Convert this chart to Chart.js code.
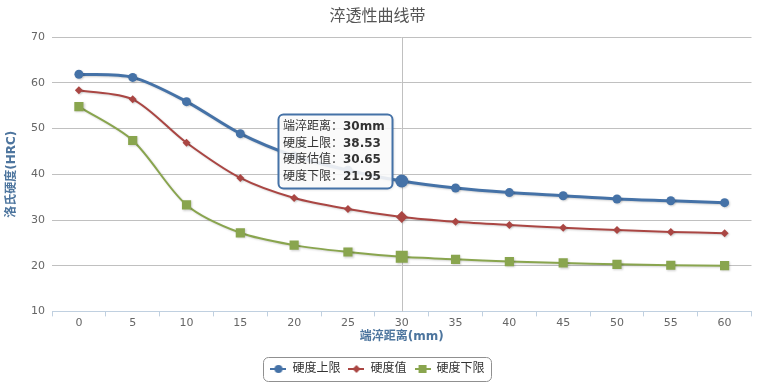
<!DOCTYPE html>
<html lang="zh">
<head>
    <meta charset="UTF-8">
    <title>淬透性曲线带</title>
    <style>
        body {
            margin: 0;
            padding: 0;
            background-color: white;
        }
        .chart-box {
            width: 758px;
            height: 385px;
        }
    </style>
</head>
<body>
    <div class="chart-box">
        <canvas id="hardenChart"></canvas>
    </div>
    <script src="https://cdn.jsdelivr.net/npm/chart.js"></script>
    <script>
        // 端淬距离 (mm)
        const distances = ['0', '5', '10', '15', '20', '25', '30', '35', '40', '45', '50', '55', '60'];
        // 硬度 (HRC)
        const upperLimit = [61.9, 61.2, 55.9, 48.9, 44.0, 40.9, 38.53, 37.0, 36.0, 35.3, 34.6, 34.2, 33.8];
        const estimate = [58.4, 56.4, 46.9, 39.2, 34.8, 32.4, 30.65, 29.6, 28.9, 28.3, 27.8, 27.4, 27.1];
        const lowerLimit = [54.8, 47.4, 33.3, 27.2, 24.5, 23.0, 21.95, 21.4, 20.9, 20.6, 20.3, 20.1, 20.0];
        const seriesNames = ['硬度上限', '硬度值', '硬度下限'];
        const hoverIndex = 6;

        const FONT = '"DejaVu Sans", "Noto Sans CJK SC", sans-serif';
        const colors = ['#4572A7', '#AA4643', '#89A54E'];

        // little line + marker pictures for the legend
        function legendIcon(color, style) {
            const c = document.createElement('canvas');
            c.width = 16;
            c.height = 12;
            const g = c.getContext('2d');
            g.strokeStyle = color;
            g.lineWidth = 2;
            g.beginPath();
            g.moveTo(0, 6);
            g.lineTo(16, 6);
            g.stroke();
            g.fillStyle = color;
            g.beginPath();
            if (style === 'circle') {
                g.arc(8, 6, 4, 0, Math.PI * 2);
            } else if (style === 'diamond') {
                g.moveTo(8, 2); g.lineTo(12, 6); g.lineTo(8, 10); g.lineTo(4, 6); g.closePath();
            } else {
                g.rect(4, 2, 8, 8);
            }
            g.fill();
            return c;
        }
        const icons = [legendIcon(colors[0], 'circle'), legendIcon(colors[1], 'diamond'), legendIcon(colors[2], 'square')];

        const lineShadow = {
            id: 'lineShadow',
            beforeDatasetDraw(chart) {
                const ctx = chart.ctx;
                ctx.save();
                ctx.shadowColor = 'rgba(0,0,0,0.18)';
                ctx.shadowOffsetX = 1;
                ctx.shadowOffsetY = 1;
                ctx.shadowBlur = 2;
            },
            afterDatasetDraw(chart) {
                chart.ctx.restore();
            }
        };

        const crosshair = {
            id: 'crosshair',
            beforeDatasetsDraw(chart) {
                const ctx = chart.ctx;
                const x = chart.scales.x.getPixelForValue(hoverIndex);
                ctx.save();
                ctx.strokeStyle = '#C0C0C0';
                ctx.lineWidth = 1;
                ctx.beginPath();
                ctx.moveTo(Math.round(x) + 0.5, chart.chartArea.top);
                ctx.lineTo(Math.round(x) + 0.5, chart.chartArea.bottom);
                ctx.stroke();
                ctx.restore();
            }
        };

        const legendBorder = {
            id: 'legendBorder',
            afterDraw(chart) {
                const boxes = chart.legend.legendHitBoxes;
                if (!boxes || !boxes.length) return;
                let l = Infinity, r = -Infinity, t = Infinity, b = -Infinity;
                boxes.forEach(h => {
                    l = Math.min(l, h.left);
                    r = Math.max(r, h.left + h.width);
                    t = Math.min(t, h.top);
                    b = Math.max(b, h.top + h.height);
                });
                const ctx = chart.ctx;
                ctx.save();
                ctx.strokeStyle = '#909090';
                ctx.lineWidth = 1;
                ctx.beginPath();
                ctx.roundRect(Math.round(l - 7) + 0.5, Math.round(t - 6) + 0.5, Math.round(r - l + 14), Math.round(b - t + 12), 5);
                ctx.stroke();
                ctx.restore();
            }
        };

        const fixedTooltip = {
            id: 'fixedTooltip',
            afterDraw(chart) {
                const ctx = chart.ctx;
                const pt = chart.getDatasetMeta(0).data[hoverIndex];
                const rows = [
                    ['端淬距离：', distances[hoverIndex] + 'mm'],
                    [seriesNames[0] + '：', upperLimit[hoverIndex].toFixed(2)],
                    ['硬度估值：', estimate[hoverIndex].toFixed(2)],
                    [seriesNames[2] + '：', lowerLimit[hoverIndex].toFixed(2)]
                ];
                const normal = '12px ' + FONT;
                const bold = 'bold 12px ' + FONT;
                let w = 0;
                rows.forEach(r => {
                    ctx.font = normal;
                    const a = ctx.measureText(r[0]).width;
                    ctx.font = bold;
                    w = Math.max(w, a + ctx.measureText(r[1]).width);
                });
                const lineH = 16.5;
                const bw = Math.round(w + 12);
                const bh = Math.round(lineH * rows.length + 8);
                const right = Math.round(pt.x - 10);
                const bottom = Math.round(pt.y + 7);
                const left = right - bw;
                const top = bottom - bh;

                ctx.save();
                ctx.shadowColor = 'rgba(0,0,0,0.2)';
                ctx.shadowOffsetX = 1;
                ctx.shadowOffsetY = 1;
                ctx.shadowBlur = 3;
                ctx.fillStyle = 'rgba(255,255,255,0.88)';
                ctx.beginPath();
                ctx.roundRect(left + 0.5, top + 0.5, bw, bh, 5);
                ctx.fill();
                ctx.shadowColor = 'transparent';
                ctx.strokeStyle = colors[0];
                ctx.lineWidth = 2;
                ctx.stroke();

                ctx.fillStyle = '#333';
                ctx.textBaseline = 'middle';
                rows.forEach((r, i) => {
                    const y = top + 4 + lineH * (i + 0.5) + 1;
                    ctx.font = normal;
                    ctx.fillText(r[0], left + 5, y);
                    const a = ctx.measureText(r[0]).width;
                    ctx.font = bold;
                    ctx.fillText(r[1], left + 5 + a, y);
                });
                ctx.restore();
            }
        };

        function series(i, data, style, lineWidth, radius) {
            return {
                label: seriesNames[i],
                data: data,
                borderColor: colors[i],
                backgroundColor: colors[i],
                borderWidth: lineWidth,
                pointStyle: style,
                pointRadius: data.map((v, k) => k === hoverIndex ? radius + 2 : radius),
                pointBorderWidth: 0,
                tension: 0.3,
                fill: false
            };
        }

        const ctx = document.getElementById('hardenChart').getContext('2d');
        new Chart(ctx, {
            type: 'line',
            data: {
                labels: distances,
                datasets: [
                    series(0, upperLimit, 'circle', 3, 4.5),
                    series(1, estimate, 'rectRot', 2, 4),
                    series(2, lowerLimit, 'rect', 2, 6.5)
                ]
            },
            options: {
                responsive: true,
                maintainAspectRatio: false,
                animation: false,
                events: [],
                layout: {
                    padding: { left: 0, right: 3, top: 0, bottom: 0 }
                },
                scales: {
                    x: {
                        offset: true,
                        grid: {
                            offset: true,
                            drawOnChartArea: false,
                            color: '#C0D0E0',
                            tickLength: 5
                        },
                        border: { color: '#C0D0E0' },
                        ticks: {
                            color: '#666',
                            font: { family: FONT, size: 11 },
                            padding: 0,
                            maxRotation: 0
                        },
                        title: {
                            display: true,
                            text: '端淬距离(mm)',
                            color: '#4d759e',
                            font: { family: FONT, size: 12, weight: 'bold' },
                            padding: { top: 0, bottom: 11 }
                        }
                    },
                    y: {
                        min: 10,
                        max: 70,
                        ticks: {
                            stepSize: 10,
                            color: '#666',
                            font: { family: FONT, size: 11 },
                            padding: 7
                        },
                        grid: {
                            color: '#C0C0C0',
                            drawTicks: false
                        },
                        border: { display: false },
                        title: {
                            display: true,
                            text: '洛氏硬度(HRC)',
                            color: '#4d759e',
                            font: { family: FONT, size: 12, weight: 'bold' },
                            padding: { top: 5, bottom: 4 }
                        },
                        afterFit(scale) {
                            scale.width = 52;
                        }
                    }
                },
                plugins: {
                    title: {
                        display: true,
                        text: '淬透性曲线带',
                        color: '#555',
                        font: { family: FONT, size: 16, weight: 'normal' },
                        padding: { top: 7, bottom: 11 }
                    },
                    legend: {
                        position: 'bottom',
                        labels: {
                            usePointStyle: true,
                            pointStyleWidth: 16,
                            color: '#333',
                            font: { family: FONT, size: 12 },
                            padding: 8,
                            generateLabels(chart) {
                                return chart.data.datasets.map((ds, i) => ({
                                    text: ds.label,
                                    pointStyle: icons[i],
                                    fontColor: '#333',
                                    strokeStyle: colors[i],
                                    fillStyle: colors[i],
                                    lineWidth: 0,
                                    hidden: false,
                                    datasetIndex: i
                                }));
                            }
                        }
                    },
                    tooltip: { enabled: false }
                }
            },
            plugins: [lineShadow, crosshair, fixedTooltip, legendBorder]
        });
    </script>
</body>
</html>
